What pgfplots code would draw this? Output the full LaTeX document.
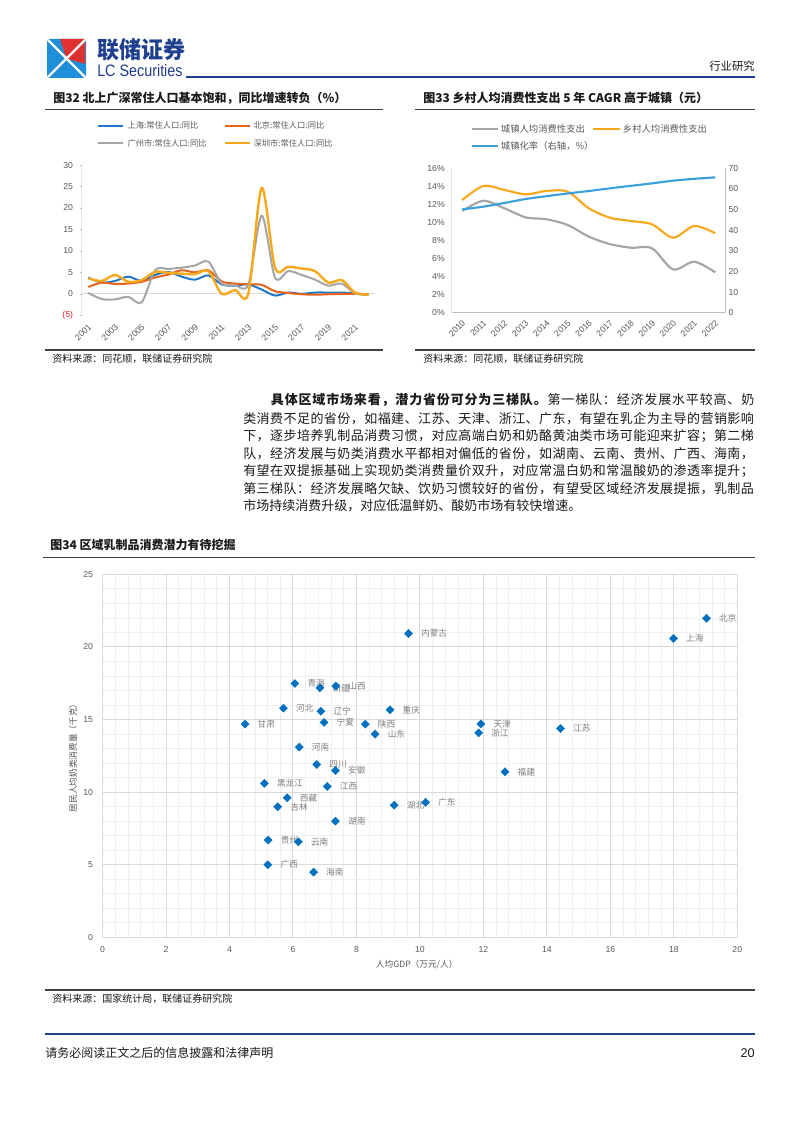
\documentclass[border=0pt]{standalone}
\usepackage{pgfplots}
\pgfplotsset{compat=1.18}
\usepackage{graphicx}
\usepackage{fontspec}
\setmainfont{Liberation Sans}
\newfontfamily\cjk{Noto Sans CJK SC}
\definecolor{cSH}{HTML}{1F78C8}
\definecolor{cBJ}{HTML}{E8641B}
\definecolor{cGZ}{HTML}{A5A5A5}
\definecolor{cSZ}{HTML}{F7A81B}
\definecolor{cUrb}{HTML}{3DA0D8}
\definecolor{mk}{HTML}{0070C0}
\definecolor{tickgray}{HTML}{595959}
\definecolor{lblgray}{HTML}{7F7F7F}
\definecolor{axgray}{HTML}{BFBFBF}
\definecolor{zerogray}{HTML}{D9D9D9}
\definecolor{gridmaj}{HTML}{D9D9D9}
\definecolor{gridmin}{HTML}{EFEFEF}
\definecolor{navy}{HTML}{1F3F8F}
\definecolor{rulegray}{HTML}{404040}
\definecolor{negred}{HTML}{E02020}
\definecolor{logoblue}{HTML}{1E8FD8}
\definecolor{logored}{HTML}{E03030}
\definecolor{bodytext}{HTML}{1A1A1A}
\ExplSyntaxOn
\NewDocumentCommand\spreadline{m}{\tl_map_inline:nn {#1}{##1\hskip 0pt plus 1fil}}
\ExplSyntaxOff
\newcommand{\bodyfont}{\cjk\fontsize{9.75}{11}\selectfont}
\begin{document}
\begin{tikzpicture}
\begin{scope}[x=0.75pt,y=-0.75pt]
\path[use as bounding box] (0,0) rectangle (800,1131);
\fill[white] (0,0) rectangle (800,1131);
\coordinate (A) at (81.7,315.3);
\coordinate (B) at (451.7,312.7);
\coordinate (C) at (102.5,937.3);
% header
\fill[logoblue, rounded corners=2pt] (47,39) rectangle (86,78);
\fill[logored] (60,39) -- (85,39) -- (85,64) -- (66.5,58.5) -- cycle;
\draw[white, line width=1.8pt] (48,40) -- (85,77) (85,40) -- (48,77);
\node[anchor=west, inner sep=0pt, text=navy] at (97,50) {\resizebox{66pt}{15pt}{\cjk\bfseries 联储证券}};
\node[anchor=west, inner sep=0pt, text=navy] at (97,70.5) {\resizebox{64pt}{9pt}{LC Securities}};
\draw[navy, line width=1.5pt] (186,77) -- (755,77);
\node[anchor=east, inner sep=0pt, text=bodytext] at (755,66) {\cjk\fontsize{8.5}{9}\selectfont 行业研究};
% chart 32 decorations
\node[anchor=west, inner sep=0pt, text=bodytext] at (53,98.3) {\cjk\bfseries\fontsize{9}{10}\selectfont 图32 北上广深常住人口基本饱和，同比增速转负（\%）};
\draw[rulegray, line width=1.2pt] (45,109.5) -- (383,109.5);
\draw[cSH, line width=1.5pt] (98.3,125.7) -- (123.3,125.7);
\node[anchor=west, inner sep=0pt, text=tickgray] at (127.3,125.7) {\cjk\fontsize{6.2}{7}\selectfont 上海:常住人口:同比};
\draw[cBJ, line width=1.5pt] (225,125.7) -- (250,125.7);
\node[anchor=west, inner sep=0pt, text=tickgray] at (253.3,125.7) {\cjk\fontsize{6.2}{7}\selectfont 北京:常住人口:同比};
\draw[cGZ, line width=1.5pt] (98.3,143.3) -- (123.3,143.3);
\node[anchor=west, inner sep=0pt, text=tickgray] at (127.3,143.3) {\cjk\fontsize{6.2}{7}\selectfont 广州市:常住人口:同比};
\draw[cSZ, line width=1.5pt] (225,143.3) -- (250,143.3);
\node[anchor=west, inner sep=0pt, text=tickgray] at (253.3,143.3) {\cjk\fontsize{6.2}{7}\selectfont 深圳市:常住人口:同比};
\draw[rulegray, line width=1.2pt] (45,350) -- (383,350);
\node[anchor=west, inner sep=0pt, text=bodytext] at (52,358.5) {\cjk\fontsize{7.5}{8}\selectfont 资料来源：同花顺，联储证券研究院};
% chart 33 decorations
\node[anchor=west, inner sep=0pt, text=bodytext] at (423,98.3) {\cjk\bfseries\fontsize{9}{10}\selectfont 图33 乡村人均消费性支出 5 年 CAGR 高于城镇（元）};
\draw[rulegray, line width=1.2pt] (415,109.5) -- (755,109.5);
\draw[cGZ, line width=1.5pt] (471.7,129.3) -- (498.3,129.3);
\node[anchor=west, inner sep=0pt, text=tickgray] at (500.7,129.3) {\cjk\fontsize{7}{8}\selectfont 城镇人均消费性支出};
\draw[cSZ, line width=1.5pt] (592.7,129.3) -- (620,129.3);
\node[anchor=west, inner sep=0pt, text=tickgray] at (622.7,129.3) {\cjk\fontsize{7}{8}\selectfont 乡村人均消费性支出};
\draw[cUrb, line width=1.5pt] (471.7,146) -- (498.3,146);
\node[anchor=west, inner sep=0pt, text=tickgray] at (500.7,146) {\cjk\fontsize{7}{8}\selectfont 城镇化率（右轴，\%）};
\draw[rulegray, line width=1.2pt] (415,350) -- (755,350);
\node[anchor=west, inner sep=0pt, text=bodytext] at (423,358.5) {\cjk\fontsize{7.5}{8}\selectfont 资料来源：同花顺，联储证券研究院};
% body text
\node[anchor=west, inner sep=0pt, text=bodytext] at (270.7,400) {\bodyfont\makebox[362.5pt][s]{\bfseries\spreadline{具体区域市场来看，潜力省份可分为三梯队。}\mdseries\spreadline{第一梯队：经济发展水平较高、奶}\unskip}};
\node[anchor=west, inner sep=0pt, text=bodytext] at (243,418.3) {\bodyfont\makebox[383pt][s]{\spreadline{类消费不足的省份，如福建、江苏、天津、浙江、广东，有望在乳企为主导的营销影响}\unskip}};
\node[anchor=west, inner sep=0pt, text=bodytext] at (243,436) {\bodyfont\makebox[383pt][s]{\spreadline{下，逐步培养乳制品消费习惯，对应高端白奶和奶酪黄油类市场可能迎来扩容；第二梯}\unskip}};
\node[anchor=west, inner sep=0pt, text=bodytext] at (243,453.3) {\bodyfont\makebox[383pt][s]{\spreadline{队，经济发展与奶类消费水平都相对偏低的省份，如湖南、云南、贵州、广西、海南，}\unskip}};
\node[anchor=west, inner sep=0pt, text=bodytext] at (243,470.7) {\bodyfont\makebox[383pt][s]{\spreadline{有望在双提振基础上实现奶类消费量价双升，对应常温白奶和常温酸奶的渗透率提升；}\unskip}};
\node[anchor=west, inner sep=0pt, text=bodytext] at (243,488.3) {\bodyfont\makebox[383pt][s]{\spreadline{第三梯队：经济发展略欠缺、饮奶习惯较好的省份，有望受区域经济发展提振，乳制品}\unskip}};
\node[anchor=west, inner sep=0pt, text=bodytext] at (243,506) {\bodyfont 市场持续消费升级，对应低温鲜奶、酸奶市场有较快增速。};
% chart 34 decorations
\node[anchor=west, inner sep=0pt, text=bodytext] at (50,545) {\cjk\bfseries\fontsize{9}{10}\selectfont 图34 区域乳制品消费潜力有待挖掘};
\draw[rulegray, line width=1.2pt] (43,557.3) -- (755,557.3);
\draw[rulegray, line width=1.2pt] (45,990) -- (755,990);
\node[anchor=west, inner sep=0pt, text=bodytext] at (52,998.5) {\cjk\fontsize{7.5}{8}\selectfont 资料来源：国家统计局，联储证券研究院};
% footer
\draw[navy, line width=2pt] (45,1034) -- (755,1034);
\node[anchor=west, inner sep=0pt, text=bodytext] at (45,1053) {\cjk\fontsize{9}{10}\selectfont 请务必阅读正文之后的信息披露和法律声明};
\node[anchor=east, inner sep=0pt, text=bodytext] at (755,1053) {\fontsize{9.5}{10}\selectfont 20};
\end{scope}

% ---------------- chart 32 ----------------
\begin{axis}[at={(A)}, anchor=south west, scale only axis,
  width=219.98pt, height=112.7pt,
  xmin=2000.5, xmax=2022.5, ymin=-5, ymax=30,
  axis line style={draw=none},
  xtick={2001,2003,...,2021}, ytick={-5,0,...,30},
  yticklabels={\textcolor{negred}{(5)},0,5,10,15,20,25,30},
  xtick style={draw=none}, ytick style={draw=axgray},
  ytick pos=left, tick align=outside, major tick length=1.5pt,
  /pgf/number format/assume math mode=true,
  /pgf/number format/1000 sep={},
  tick label style={font=\fontsize{6.5}{7}\selectfont, text=tickgray},
  yticklabel style={anchor=east, inner sep=0pt, xshift=-4.8pt},
  xticklabel style={xshift=1.3pt, yshift=-6pt, rotate=45, anchor=east, inner sep=0pt},
  every axis plot/.append style={smooth, tension=0.5, no marks, line join=round}]
\draw[axgray, line width=0.6pt] (axis cs:2000.5,-5) -- (axis cs:2000.5,30);
\draw[zerogray, line width=0.8pt] (axis cs:2000.5,0) -- (axis cs:2022.5,0);
\addplot[cSH, line width=1.5pt] coordinates {(2001,3.8)(2002,2.6)(2003,3.0)(2004,4.0)(2005,3.0)(2006,4.4)(2007,5.1)(2008,4.0)(2009,3.3)(2010,4.3)(2011,2.2)(2012,1.9)(2013,2.2)(2014,1.0)(2015,-0.4)(2016,0.3)(2017,0.0)(2018,0.3)(2019,0.3)(2020,0.3)(2021,0.1)(2022,-0.2)};
\addplot[cBJ, line width=1.5pt] coordinates {(2001,1.6)(2002,2.6)(2003,2.3)(2004,2.4)(2005,2.8)(2006,3.8)(2007,4.5)(2008,5.5)(2009,5.0)(2010,5.5)(2011,2.9)(2012,2.4)(2013,2.2)(2014,2.1)(2015,0.6)(2016,0.2)(2017,-0.1)(2018,-0.2)(2019,-0.1)(2020,0.0)(2021,0.0)(2022,-0.1)};
\addplot[cGZ, line width=1.5pt] coordinates {(2001,0.2)(2002,-1.2)(2003,-1.3)(2004,-0.7)(2005,-2.0)(2006,5.5)(2007,5.8)(2008,6.1)(2009,6.6)(2010,7.5)(2011,2.4)(2012,2.0)(2013,2.2)(2014,18.2)(2015,3.8)(2016,5.3)(2017,4.4)(2018,3.3)(2019,1.9)(2020,2.4)(2021,0.1)(2022,-0.2)};
\addplot[cSZ, line width=1.8pt] coordinates {(2001,3.6)(2002,3.0)(2003,4.4)(2004,2.8)(2005,3.2)(2006,5.1)(2007,4.9)(2008,4.7)(2009,4.6)(2010,5.3)(2011,0.0)(2012,0.9)(2013,0.1)(2014,24.7)(2015,6.1)(2016,6.3)(2017,5.9)(2018,5.3)(2019,2.6)(2020,3.2)(2021,0.3)(2022,-0.2)};
\end{axis}

% ---------------- chart 33 ----------------
\begin{axis}[at={(B)}, anchor=south west, scale only axis,
  width=205.6pt, height=108.3pt,
  xmin=2009.5, xmax=2022.5, ymin=0, ymax=16,
  axis line style={draw=none}, tick style={draw=none},
  xtick={2010,...,2022}, ytick={0,2,...,16},
  ytick pos=left, xtick pos=bottom,
  /pgf/number format/assume math mode=true,
  /pgf/number format/1000 sep={},
  yticklabel={\pgfmathprintnumber{\tick}\%},
  tick label style={font=\fontsize{6.5}{7}\selectfont, text=tickgray},
  yticklabel style={anchor=east, inner sep=0pt, xshift=-5pt},
  xticklabel style={xshift=1.3pt, yshift=-6.5pt, rotate=45, anchor=east, inner sep=0pt},
  every axis plot/.append style={smooth, tension=0.5, no marks, line join=round}]
\draw[axgray, line width=0.6pt] (axis cs:2009.5,0) -- (axis cs:2022.5,0);
\draw[axgray, line width=0.6pt] (axis cs:2009.5,0) -- (axis cs:2009.5,16);
\draw[axgray, line width=0.6pt] (axis cs:2022.5,0) -- (axis cs:2022.5,16);
\addplot[cGZ, line width=1.6pt] coordinates {(2010,11.27)(2011,12.4)(2012,11.57)(2013,10.57)(2014,10.35)(2015,9.72)(2016,8.43)(2017,7.61)(2018,7.2)(2019,7.13)(2020,4.8)(2021,5.65)(2022,4.47)};
\addplot[cSZ, line width=1.6pt] coordinates {(2010,12.49)(2011,14.04)(2012,13.6)(2013,13.12)(2014,13.49)(2015,13.41)(2016,11.57)(2017,10.53)(2018,10.16)(2019,9.79)(2020,8.31)(2021,9.61)(2022,8.8)};
\end{axis}
\begin{axis}[at={(B)}, anchor=south west, scale only axis,
  width=205.6pt, height=108.3pt,
  xmin=2009.5, xmax=2022.5, ymin=0, ymax=70,
  axis line style={draw=none}, tick style={draw=none},
  xtick=\empty, ytick={0,10,...,70}, ytick pos=right, yticklabel pos=right,
  /pgf/number format/assume math mode=true,
  tick label style={font=\fontsize{6.5}{7}\selectfont, text=tickgray},
  yticklabel style={anchor=west, inner sep=0pt, xshift=1.8pt},
  every axis plot/.append style={smooth, tension=0.5, no marks, line join=round}]
\addplot[cUrb, line width=1.6pt] coordinates {(2010,50.1)(2011,51.4)(2012,53.2)(2013,55.1)(2014,56.5)(2015,57.8)(2016,59.0)(2017,60.3)(2018,61.5)(2019,62.7)(2020,64.0)(2021,64.9)(2022,65.6)};
\end{axis}

% ---------------- chart 34 ----------------
\begin{axis}[at={(C)}, anchor=south west, scale only axis,
  width=476.1pt, height=272.25pt,
  xmin=0, xmax=20, ymin=0, ymax=25,
  xtick={0,2,...,20}, ytick={0,5,...,25},
  minor x tick num=4, minor y tick num=4,
  grid=both,
  major grid style={draw=gridmaj, line width=0.7pt},
  minor grid style={draw=gridmin, line width=0.5pt},
  axis line style={draw=gridmaj, line width=0.7pt},
  tick style={draw=none},
  /pgf/number format/assume math mode=true,
  tick label style={font=\fontsize{6.5}{7}\selectfont, text=tickgray},
  xticklabel style={anchor=center, inner sep=0pt, yshift=-8.8pt},
  yticklabel style={anchor=east, inner sep=0pt, xshift=-6.9pt},
  xlabel={\cjk 人均GDP（万元/人）},
  ylabel={\cjk 居民人均奶类消费量（千克）},
  label style={font=\fontsize{6.5}{7}\selectfont, text=tickgray},
  xlabel style={at={(axis description cs:0.495,-0.0763)}, anchor=center, inner sep=0pt},
  ylabel style={at={(axis description cs:-0.0465,0.5)}, anchor=center, inner sep=0pt}]
\addplot[only marks, mark=square*, mark size=2.1pt,
  mark options={rotate=45, draw=mk, fill=mk},
  nodes near coords, point meta=explicit symbolic,
  every node near coord/.append style={anchor=west, inner sep=0pt, xshift=9.3pt, font=\cjk\fontsize{6.5}{7}\selectfont, text=lblgray}]
  table[x=x, y=y, meta=name] {
x y name
19.03 21.97 北京
17.99 20.58 上海
9.64 20.92 内蒙古
6.06 17.48 青海
6.85 17.18 新疆
7.35 17.30 山西
5.70 15.78 河北
6.88 15.57 辽宁
9.06 15.67 重庆
4.49 14.68 甘肃
6.98 14.80 宁夏
8.28 14.68 陕西
8.59 13.99 山东
6.20 13.10 河南
6.75 11.90 四川
7.34 11.49 安徽
5.10 10.60 黑龙江
7.08 10.39 江西
5.82 9.61 西藏
5.52 8.99 吉林
9.19 9.10 湖北
10.18 9.29 广东
7.34 8.00 湖南
5.22 6.70 贵州
6.17 6.58 云南
5.21 5.00 广西
6.65 4.49 海南
11.92 14.70 天津
11.85 14.08 浙江
14.43 14.38 江苏
12.68 11.40 福建
};
\end{axis}
\end{tikzpicture}
\end{document}
